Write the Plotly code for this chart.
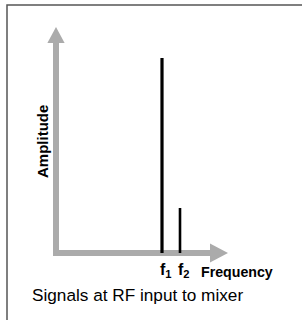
import plotly.graph_objects as go

# Data
signal_labels = ["f<sub>1</sub>", "f<sub>2</sub>"]
signal_freqs = [5.3, 6.2]
signal_amps = [9.75, 2.25]
signal_widths = [3.2, 2.6]

x_axis_title = "Frequency"
y_axis_title = "Amplitude"
caption = "Signals at RF input to mixer"

W, H = 302, 320
# scale: 20 px per unit, origin at pixel (56, 253)
xr = [-56 / 20, (W - 56) / 20]
yr = [(253 - H) / 20, 253 / 20]

fig = go.Figure()

axis_col = "#ababab"
x_tip, x_base, y_tip, y_base = 8.6, 7.7, 11.3, 10.5
shapes = [
    dict(type="line", x0=0, y0=-0.15, x1=0, y1=y_base + 0.05, line=dict(color=axis_col, width=6), layer="below"),
    dict(type="line", x0=-0.15, y0=0, x1=x_base + 0.05, y1=0, line=dict(color=axis_col, width=6), layer="below"),
    dict(type="path", path=f"M -0.43 {y_base} L 0.43 {y_base} L 0 {y_tip} Z",
         fillcolor=axis_col, line=dict(width=0), layer="below"),
    dict(type="path", path=f"M {x_base} -0.48 L {x_base} 0.48 L {x_tip} 0 Z",
         fillcolor=axis_col, line=dict(width=0), layer="below"),
    dict(type="rect", xref="paper", yref="paper", x0=7 / W, x1=1.02, y0=-0.05, y1=1 - 5 / H,
         line=dict(color="#555555", width=1.5)),
]

for f, a, w in zip(signal_freqs, signal_amps, signal_widths):
    fig.add_trace(go.Scatter(x=[f, f], y=[0, a], mode="lines",
                             line=dict(color="black", width=w), hoverinfo="skip", showlegend=False))

font_w = "Liberation Sans, Arial, sans-serif"
annotations = []
for f, lab in zip(signal_freqs, signal_labels):
    annotations.append(dict(x=f, y=-0.85, text=f"<b>{lab}</b>", showarrow=False, xshift=-4,
                            font=dict(family=font_w, size=16, color="black"),
                            xanchor="left", yanchor="middle"))
annotations.append(dict(x=(199 - 56) / 20, y=-0.95, text=f"<b>{x_axis_title}</b>", showarrow=False,
                        font=dict(family=font_w, size=14.2, color="black"),
                        xanchor="left", yanchor="middle"))
annotations.append(dict(x=(42 - 56) / 20, y=(253 - 142) / 20, text=f"<b>{y_axis_title}</b>", showarrow=False,
                        textangle=-90, font=dict(family=font_w, size=15, color="black"),
                        xanchor="center", yanchor="middle"))
annotations.append(dict(x=(137 - 56) / 20, y=(253 - 295) / 20, text=caption, showarrow=False,
                        font=dict(family=font_w, size=17.2, color="black"),
                        xanchor="center", yanchor="middle"))

fig.update_layout(
    width=W, height=H, margin=dict(l=0, r=0, t=0, b=0),
    paper_bgcolor="white", plot_bgcolor="white",
    xaxis=dict(range=xr, visible=False, fixedrange=True),
    yaxis=dict(range=yr, visible=False, fixedrange=True),
    shapes=shapes, annotations=annotations, showlegend=False,
)
fig.write_html("out.html", config={"displayModeBar": False},
               post_script="document.body.style.margin='0';document.body.style.overflow='hidden';")
